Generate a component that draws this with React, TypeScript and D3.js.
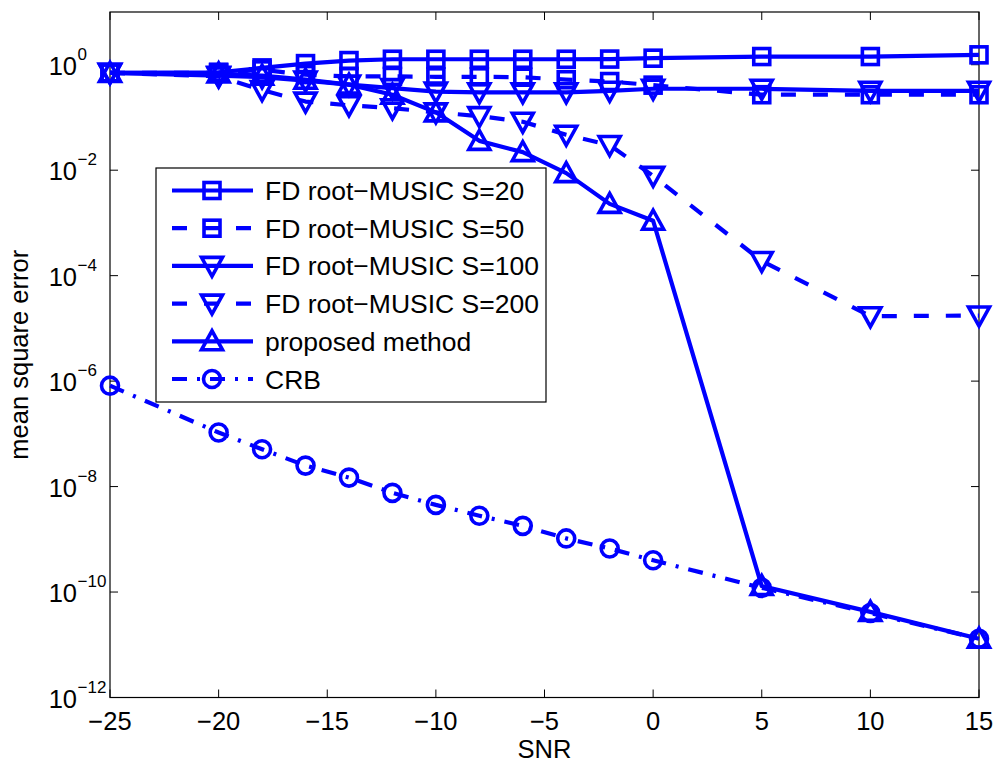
import React from "react";
import * as d3 from "d3";

const snr = [-25, -20, -18, -16, -14, -12, -10, -8, -6, -4, -2, 0, 5, 10, 15];
const s20 = [0.7, 0.72, 0.87, 1.05, 1.2, 1.27, 1.27, 1.27, 1.27, 1.27, 1.28, 1.33, 1.43, 1.43, 1.54];
const s50 = [0.7, 0.7, 0.8, 0.65, 0.6, 0.6, 0.59, 0.59, 0.58, 0.52, 0.48, 0.41, 0.27, 0.27, 0.27];
const s100 = [0.7, 0.62, 0.58, 0.5, 0.42, 0.36, 0.31, 0.3, 0.3, 0.3, 0.32, 0.35, 0.35, 0.32, 0.32];
const s200 = [0.7, 0.6, 0.33, 0.2, 0.17, 0.15, 0.125, 0.106, 0.083, 0.047, 0.03, 0.0078, 1.9e-4, 1.7e-5, 1.75e-5];
const proposed = [0.7, 0.68, 0.62, 0.52, 0.42, 0.27, 0.125, 0.036, 0.022, 0.0088, 0.0023, 0.0011, 1.3e-10, 4.2e-11, 1.3e-11];
const crb = [8.2e-7, 1.06e-7, 5.1e-8, 2.5e-8, 1.48e-8, 7.6e-9, 4.5e-9, 2.8e-9, 1.8e-9, 1.04e-9, 6.7e-10, 4e-10, 1.2e-10, 4e-11, 1.3e-11];

const seriesNames = [
  "FD root\u2212MUSIC S=20",
  "FD root\u2212MUSIC S=50",
  "FD root\u2212MUSIC S=100",
  "FD root\u2212MUSIC S=200",
  "proposed method",
  "CRB",
];
const seriesValues = [s20, s50, s100, s200, proposed, crb];
const seriesMarkers = ["square", "square", "down", "down", "up", "circle"];
const seriesDash = ["", "15 17", "", "15 17", "", "15 10 3 10"];

const xTicks = [-25, -20, -15, -10, -5, 0, 5, 10, 15];
const yTickExps = [-12, -10, -8, -6, -4, -2, 0];

const BLUE = "#0000ff";
const FONT = "'Liberation Sans', Arial, Helvetica, sans-serif";

function Marker({ type, x, y }: { type: string; x: number; y: number }) {
  const common = { fill: "none", stroke: BLUE, strokeWidth: 3.6 };
  if (type === "square") {
    return <rect x={x - 8} y={y - 8} width={16} height={16} {...common} />;
  }
  if (type === "circle") {
    return <circle cx={x} cy={y} r={8.5} {...common} />;
  }
  if (type === "down") {
    return <path d={`M${x - 10.5},${y - 8.5}L${x + 10.5},${y - 8.5}L${x},${y + 10.5}Z`} {...common} strokeLinejoin="miter" />;
  }
  return <path d={`M${x - 10.5},${y + 8.5}L${x + 10.5},${y + 8.5}L${x},${y - 10.5}Z`} {...common} strokeLinejoin="miter" />;
}

export default function App() {
  const W = 995;
  const H = 764;
  const left = 110;
  const right = 979;
  const top = 12;
  const bottom = 697.5;

  const x = d3.scaleLinear().domain([-25, 15]).range([left, right]);
  const y = d3.scaleLog().domain([1e-12, 10]).range([bottom, top]);

  const line = d3
    .line<number>()
    .x((_, i) => x(snr[i]))
    .y((d) => y(d));

  const tickLen = 8;
  const legX = 156;
  const legY = 168;
  const legW = 390;
  const legH = 234;
  const rowY0 = 190.5;
  const rowStep = 37.7;

  return (
    <svg
      width={W}
      height={H}
      style={{ position: "absolute", left: 0, top: 0, background: "#fff" }}
      fontFamily={FONT}
    >
      <rect x={0} y={0} width={W} height={H} fill="#fff" />
      {/* axes box */}
      <rect x={left} y={top} width={right - left} height={bottom - top} fill="none" stroke="#000" strokeWidth={1.2} />
      {/* x ticks */}
      {xTicks.map((t) => (
        <g key={"xt" + t}>
          <line x1={x(t)} x2={x(t)} y1={bottom} y2={bottom - tickLen} stroke="#000" strokeWidth={1} />
          <line x1={x(t)} x2={x(t)} y1={top} y2={top + tickLen} stroke="#000" strokeWidth={1} />
          <text x={x(t)} y={730} textAnchor="middle" fontSize={25.5} fill="#000">
            {t < 0 ? "\u2212" + Math.abs(t) : String(t)}
          </text>
        </g>
      ))}
      {/* y ticks */}
      {yTickExps.map((e) => {
        const yy = y(Math.pow(10, e));
        return (
          <g key={"yt" + e}>
            <line x1={left} x2={left + tickLen} y1={yy} y2={yy} stroke="#000" strokeWidth={1} />
            <line x1={right} x2={right - tickLen} y1={yy} y2={yy} stroke="#000" strokeWidth={1} />
            <text x={77} y={yy + 10} textAnchor="end" fontSize={25.5} fill="#000">
              10
            </text>
            <text x={77.5} y={yy - 5} textAnchor="start" fontSize={17} fill="#000">
              {e < 0 ? "\u2212" + Math.abs(e) : String(e)}
            </text>
          </g>
        );
      })}
      {/* axis labels */}
      <text x={(left + right) / 2} y={758} textAnchor="middle" fontSize={25.5} fill="#000">
        SNR
      </text>
      <text
        transform={`translate(28,${(top + bottom) / 2}) rotate(-90)`}
        textAnchor="middle"
        fontSize={25.5}
        fill="#000"
      >
        mean square error
      </text>
      {/* series */}
      {seriesValues.map((vals, si) => (
        <g key={"s" + si}>
          <path
            d={line(vals) || ""}
            fill="none"
            stroke={BLUE}
            strokeWidth={4.2}
            strokeDasharray={seriesDash[si] || undefined}
            strokeLinejoin="round"
          />
          {vals.map((v, i) => (
            <Marker key={i} type={seriesMarkers[si]} x={x(snr[i])} y={y(v)} />
          ))}
        </g>
      ))}
      {/* legend */}
      <rect x={legX} y={legY} width={legW} height={legH} fill="#fff" stroke="#000" strokeWidth={1.2} />
      {seriesNames.map((name, i) => {
        const ry = rowY0 + i * rowStep;
        return (
          <g key={"lg" + i}>
            <line
              x1={172}
              x2={253}
              y1={ry}
              y2={ry}
              stroke={BLUE}
              strokeWidth={4.2}
              strokeDasharray={seriesDash[i] || undefined}
            />
            <Marker type={seriesMarkers[i]} x={212} y={ry} />
            <text x={265} y={ry + 9.5} fontSize={26.5} fill="#000">
              {name}
            </text>
          </g>
        );
      })}
    </svg>
  );
}
